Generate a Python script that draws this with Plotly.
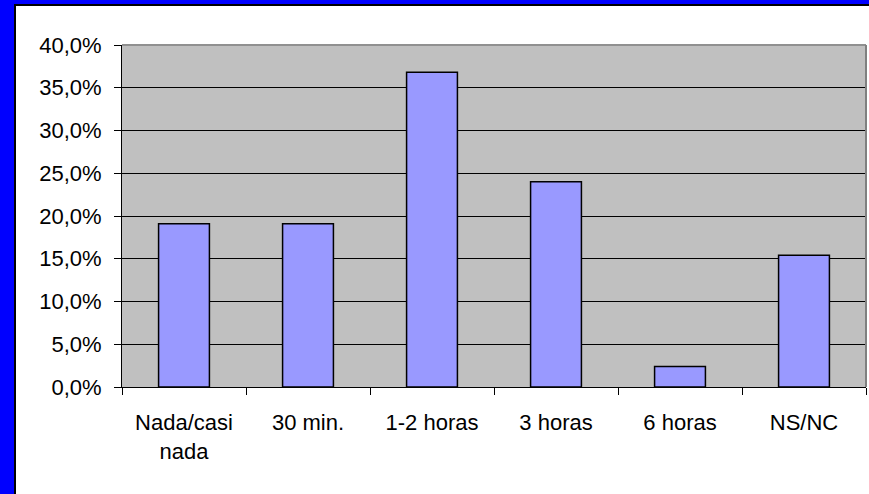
import plotly.graph_objects as go

categories = ["Nada/casi<br>nada", "30 min.", "1-2 horas", "3 horas", "6 horas", "NS/NC"]
values = [19.1, 19.1, 36.8, 24.0, 2.4, 15.4]
y_tickvals = [0, 5, 10, 15, 20, 25, 30, 35, 40]
y_ticktext = ["0,0%", "5,0%", "10,0%", "15,0%", "20,0%", "25,0%", "30,0%", "35,0%", "40,0%"]

W, H = 869, 494
L, R, T, B = 122, 3, 45, 107
pw, ph = W - L - R, H - T - B

def px_x(p):
    return (p - L) / pw

def px_y(p):
    return 1 - (p - T) / ph

fig = go.Figure(go.Bar(
    x=categories, y=values,
    marker=dict(color="#9999FF", line=dict(color="black", width=1.5)),
    width=0.41,
))

font = dict(family="Liberation Sans, Arial, sans-serif", size=22, color="black")

shapes = [
    # blue frame (left and top) with black inner edge
    dict(type="rect", xref="paper", yref="paper", x0=px_x(0), x1=px_x(15), y0=px_y(H), y1=px_y(0),
         fillcolor="#0000FF", line=dict(width=0), layer="above"),
    dict(type="rect", xref="paper", yref="paper", x0=px_x(0), x1=px_x(W), y0=px_y(5), y1=px_y(0),
         fillcolor="#0000FF", line=dict(width=0), layer="above"),
    dict(type="line", xref="paper", yref="paper", x0=px_x(15), x1=px_x(15), y0=px_y(H), y1=px_y(4),
         line=dict(color="black", width=2), layer="above"),
    dict(type="line", xref="paper", yref="paper", x0=px_x(14), x1=px_x(W), y0=px_y(5), y1=px_y(5),
         line=dict(color="black", width=2), layer="above"),
    # plot area border top/right gray
    dict(type="line", xref="paper", yref="paper", x0=0, x1=1, y0=1, y1=1,
         line=dict(color="#909090", width=2)),
    dict(type="line", xref="paper", yref="paper", x0=1, x1=1, y0=0, y1=1,
         line=dict(color="#808080", width=2)),
]

fig.update_layout(
    width=W, height=H,
    margin=dict(l=L, r=R, t=T, b=B, pad=0),
    paper_bgcolor="white",
    plot_bgcolor="#C0C0C0",
    font=font,
    showlegend=False,
    shapes=shapes,
    xaxis=dict(
        type="category", showline=True, linecolor="black", linewidth=1,
        ticks="outside", tickson="boundaries", ticklen=7, tickcolor="black",
        showgrid=False, ticklabelstandoff=16, tickfont=font,
    ),
    yaxis=dict(
        range=[0, 40], tickvals=y_tickvals, ticktext=y_ticktext,
        showline=True, linecolor="black", linewidth=1,
        ticks="outside", ticklen=7, tickcolor="black",
        showgrid=True, gridcolor="black", gridwidth=1,
        zeroline=False, ticklabelstandoff=8, tickfont=font,
    ),
)

fig.write_html(
    "out.html",
    config={"displayModeBar": False},
    post_script=(
        "document.documentElement.style.margin='0';"
        "document.documentElement.style.overflow='hidden';"
        "document.body.style.margin='0';document.body.style.overflow='hidden';"
        "window.scrollTo(0,0);"
    ),
)
